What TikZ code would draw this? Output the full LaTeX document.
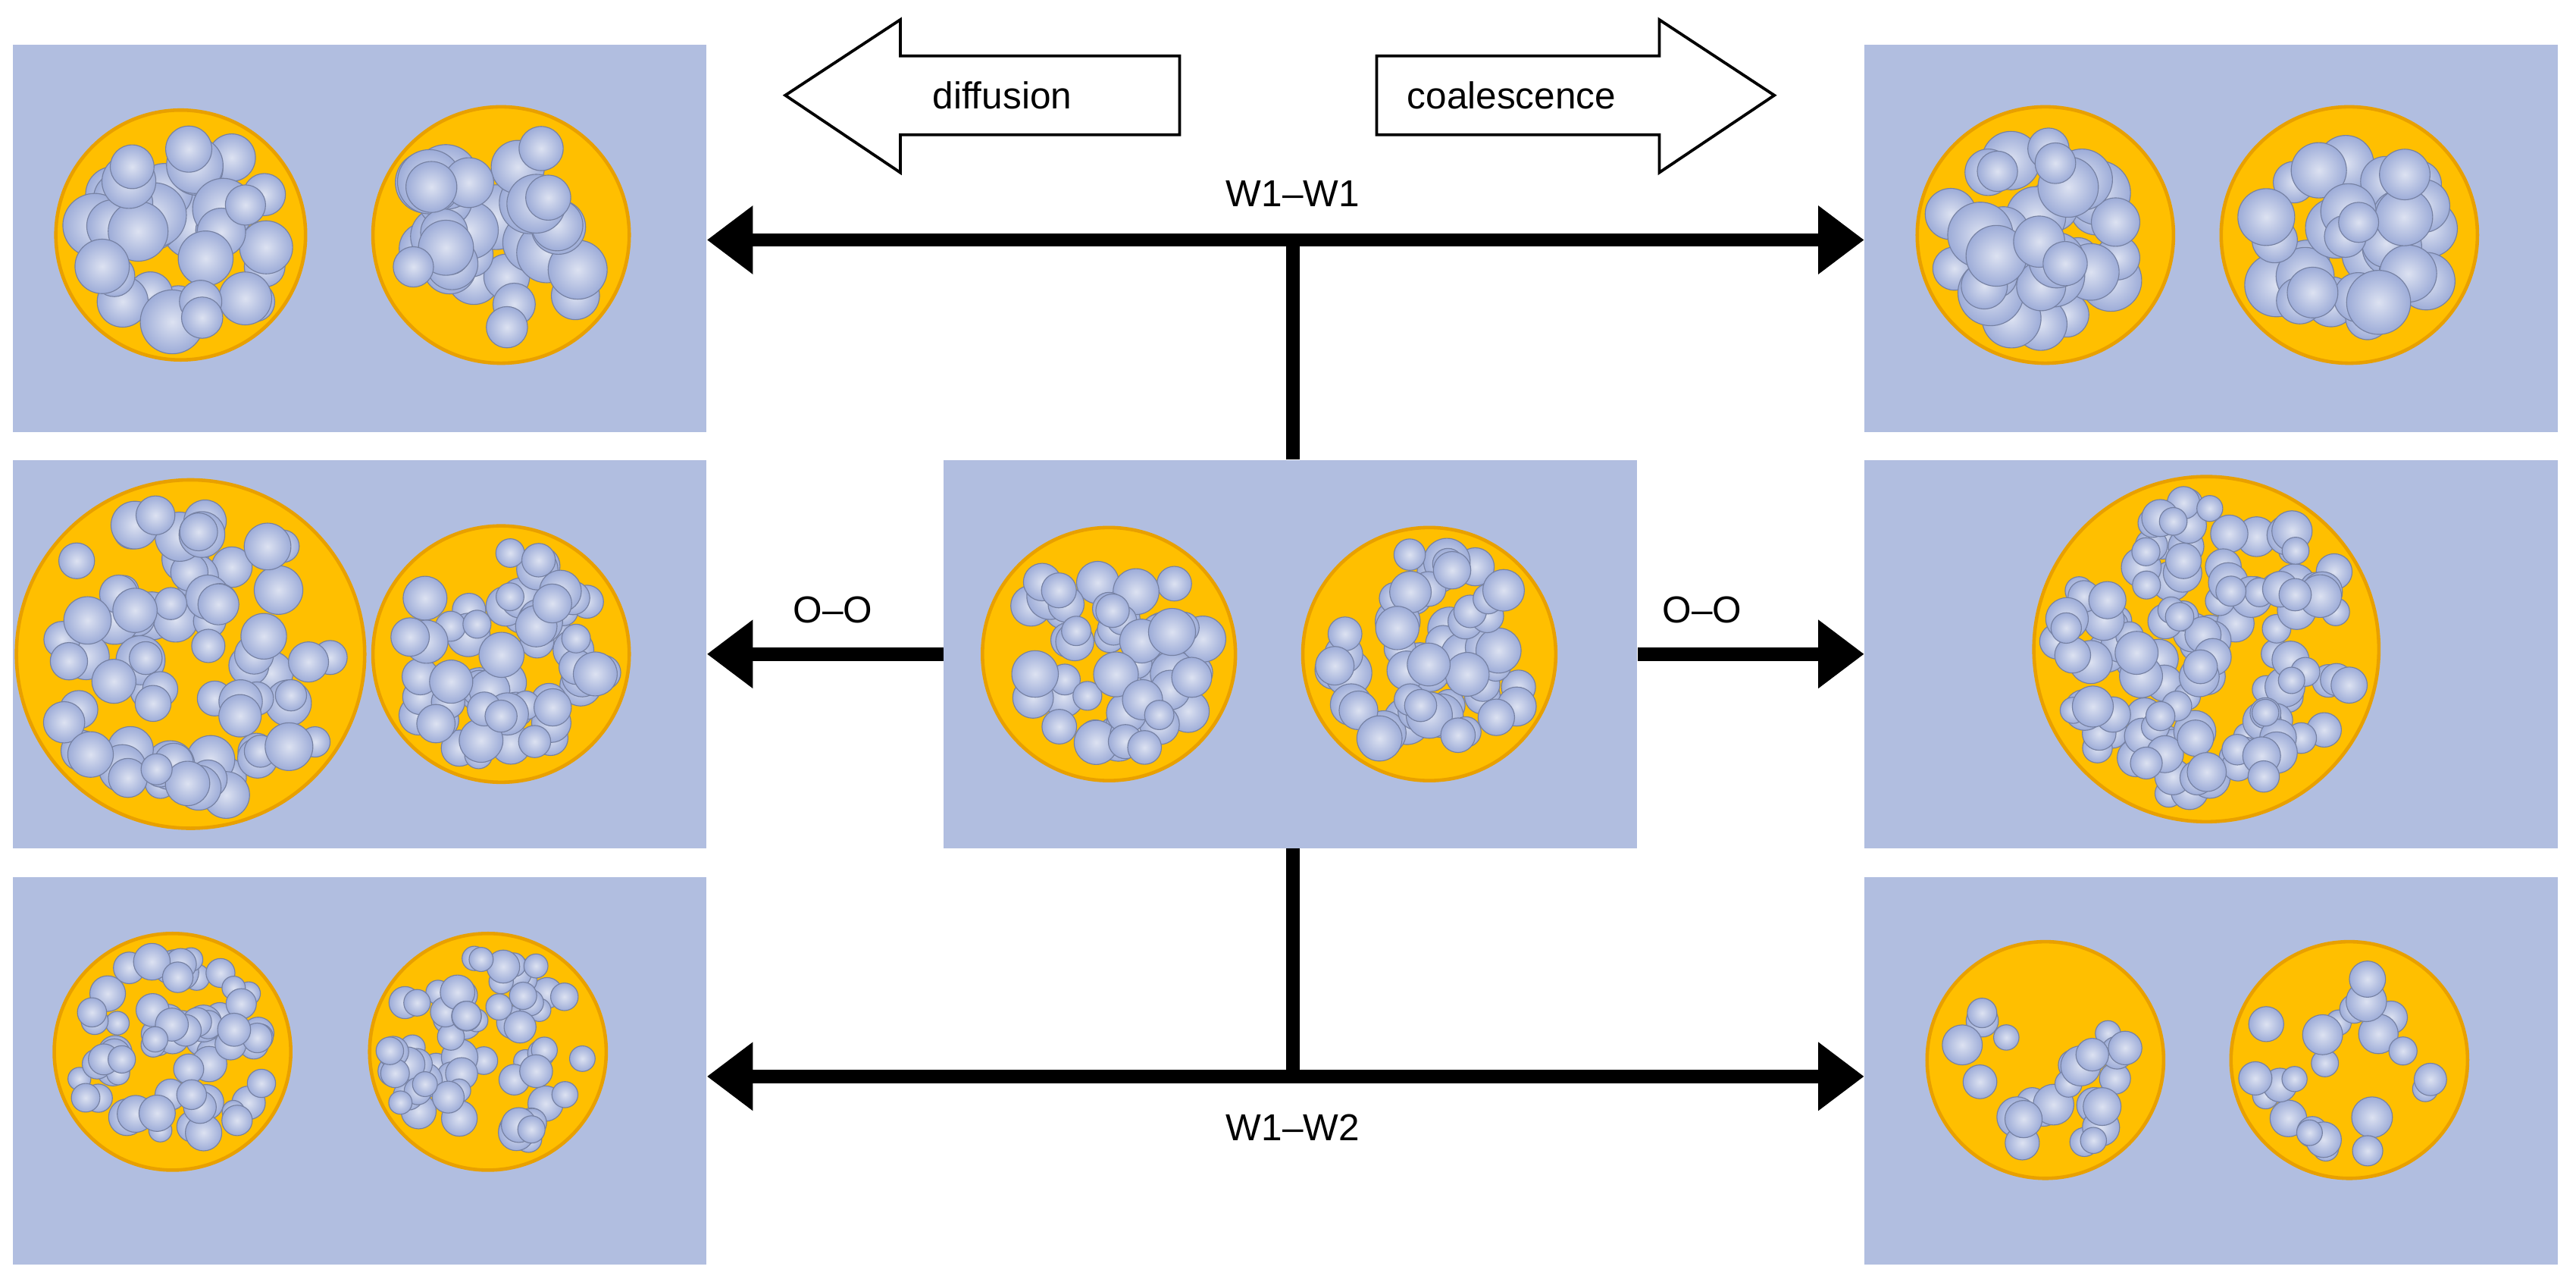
\documentclass[tikz,border=0pt]{standalone}
\usepackage{fontspec}
\setmainfont{Liberation Sans}
\usetikzlibrary{arrows.meta,calc}
\definecolor{panelc}{HTML}{B1BEE0}
\definecolor{oil}{HTML}{FFBF00}
\definecolor{oiledge}{HTML}{E8A000}
\definecolor{drop}{HTML}{9DACD8}
\tikzset{
 panel/.style={fill=panelc,draw=none,minimum width=8.44cm,minimum height=4.72cm,inner sep=0pt},
 conn/.style={line width=4.6pt,-{Triangle[length=0.56cm,width=0.8cm]}},
 bar/.style={line width=4.6pt},
 lbl/.style={font=\fontsize{13}{15}\selectfont},
 blockarrow/.style={draw=black,fill=white,line width=1pt,line join=miter}
}
\newcommand\emulsion[5]{%
 \fill[oil,draw=oiledge,line width=1.2pt] (#1,#2) circle[radius=#3];
 \foreach \i in {1,...,#4}{%
   \pgfmathsetmacro\rr{#5*(0.75+0.5*rnd)}%
   \pgfmathsetmacro\dd{(#3-\rr-3)*sqrt(rnd)}%
   \pgfmathsetmacro\aa{360*rnd}%
   \pgfmathsetmacro\px{#1+\dd*cos(\aa)}%
   \pgfmathsetmacro\py{#2+\dd*sin(\aa)}%
   \shade[inner color=drop!35!white,outer color=drop,draw=drop!75!black,line width=0.3pt] (\px,\py) circle[radius=\rr];
 }}
\begin{document}
\begin{tikzpicture}[x=0.02cm,y=-0.02cm]
\pgfmathsetseed{12345}
\useasboundingbox (0,0) rectangle (1568,780);
% panels
\node[panel] (tl) at (219,145) {};
\node[panel] (ml) at (219,398) {};
\node[panel] (bl) at (219,651.5) {};
\node[panel] (c) at (785.5,398) {};
\node[panel] (tr) at (1346,145) {};
\node[panel] (mr) at (1346,398) {};
\node[panel] (br) at (1346,651.5) {};
% emulsions
\emulsion{110}{143}{76}{34}{16}
\emulsion{305}{143}{78}{34}{16}
\emulsion{116}{398}{106}{75}{12}
\emulsion{305}{398}{78}{60}{11}
\emulsion{675}{398}{77}{55}{11.5}
\emulsion{870}{398}{77}{55}{11.5}
\emulsion{1245}{143}{78}{34}{16}
\emulsion{1430}{143}{78}{34}{16}
\emulsion{1343}{395}{105}{130}{10.5}
\emulsion{105}{640}{72}{65}{9}
\emulsion{297}{640}{72}{65}{9}
\emulsion{1245}{645}{72}{24}{10}
\emulsion{1430}{645}{72}{24}{10}
% connectors
\coordinate (jt) at (787,146);
\coordinate (jb) at (787,655);
\draw[bar] (c.north -| jt) -- (jt);
\draw[conn] (jt) -- (tl.east |- jt);
\draw[conn] (jt) -- (tr.west |- jt);
\draw[bar] (c.south -| jb) -- (jb);
\draw[conn] (jb) -- (bl.east |- jb);
\draw[conn] (jb) -- (br.west |- jb);
\draw[conn] (c.west) -- (ml.east);
\draw[conn] (c.east) -- (mr.west);
% labels
\node[lbl] (l1) at (787,118) {W1–W1};
\node[lbl] (l2) at (787,686) {W1–W2};
\node[lbl] (l3) at (507,371) {O–O};
\node[lbl] (l4) at (1036,371) {O–O};
% block arrows
\draw[blockarrow] (478,58) -- (548,12) -- (548,34) -- (718,34) -- (718,82) -- (548,82) -- (548,105) -- cycle;
\node[lbl] (d) at (610,58) {diffusion};
\draw[blockarrow] (1080,58) -- (1010,12) -- (1010,34) -- (838,34) -- (838,82) -- (1010,82) -- (1010,105) -- cycle;
\node[lbl] (co) at (920,58) {coalescence};
\end{tikzpicture}
\end{document}
